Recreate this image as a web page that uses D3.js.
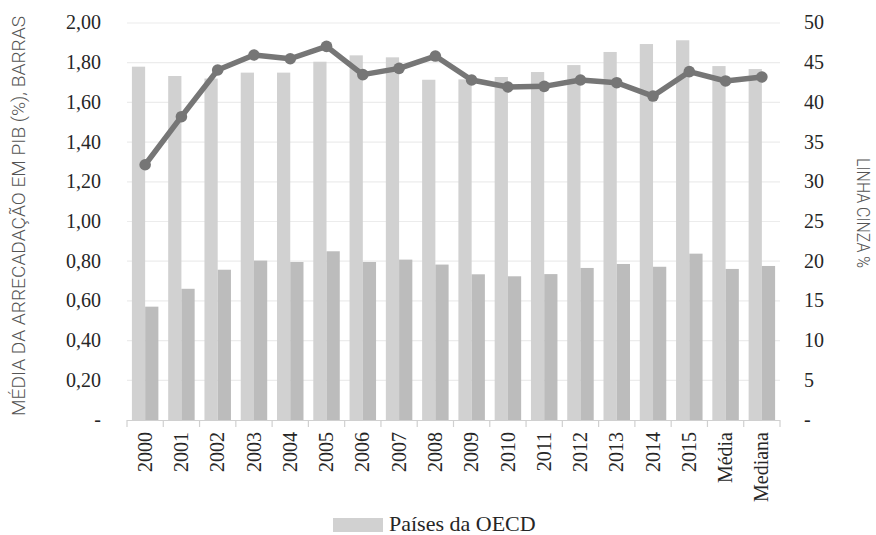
<!DOCTYPE html>
<html><head><meta charset="utf-8">
<script src="https://cdn.jsdelivr.net/npm/d3@7"></script>
<style>body{margin:0;background:#fff}svg{display:block}</style>
</head><body>
<svg id="c" width="876" height="535"></svg>
<script>
const categories = ["2000","2001","2002","2003","2004","2005","2006","2007","2008","2009","2010","2011","2012","2013","2014","2015","Média","Mediana"];
const barsLight = [1.78,1.733,1.72,1.75,1.75,1.805,1.837,1.827,1.714,1.716,1.728,1.753,1.788,1.854,1.894,1.913,1.783,1.768];
const barsDark = [0.571,0.661,0.757,0.803,0.796,0.85,0.796,0.808,0.783,0.734,0.724,0.735,0.766,0.786,0.772,0.838,0.761,0.776];
const lineGrey = [32.15,38.2,44.08,45.97,45.5,47.06,43.5,44.29,45.84,42.82,41.94,42.02,42.82,42.48,40.8,43.87,42.7,43.2];
const leftTicks = [0,0.2,0.4,0.6,0.8,1.0,1.2,1.4,1.6,1.8,2.0];
const rightTicks = [0,5,10,15,20,25,30,35,40,45,50];
const leftTitle = "MÉDIA DA ARRECADAÇÃO EM PIB (%), BARRAS";
const rightTitle = "LINHA CINZA %";
const legendLabel = "Países da OECD";

const svg = d3.select("#c");
const L = 127, R = 780, T = 23, B = 420;
const x = d3.scaleBand().domain(categories).range([L, R]).padding(0);
const yL = d3.scaleLinear().domain([0, 2]).range([B, T]);
const yR = d3.scaleLinear().domain([0, 50]).range([B, T]);
const serif = "'Liberation Serif', 'DejaVu Serif', serif";
const condensed = "'Roboto', 'DejaVu Sans Condensed', sans-serif";

// gridlines
svg.append("g").selectAll("line").data(leftTicks.filter(d => d > 0)).join("line")
  .attr("x1", L).attr("x2", R).attr("y1", d => yL(d)).attr("y2", d => yL(d))
  .attr("stroke", "#ececec").attr("stroke-width", 1.2);

// bars
const bw = x.bandwidth() * 0.365;
const gBars = svg.append("g");
gBars.selectAll("rect.l").data(categories).join("rect").attr("class", "l")
  .attr("x", (d) => x(d) + x.bandwidth() / 2 - bw).attr("width", bw)
  .attr("y", (d, i) => yL(barsLight[i])).attr("height", (d, i) => B - yL(barsLight[i]))
  .attr("fill", "#d1d1d1");
gBars.selectAll("rect.d").data(categories).join("rect").attr("class", "d")
  .attr("x", (d) => x(d) + x.bandwidth() / 2).attr("width", bw)
  .attr("y", (d, i) => yL(barsDark[i])).attr("height", (d, i) => B - yL(barsDark[i]))
  .attr("fill", "#bcbcbc");

// baseline & ticks
svg.append("line").attr("x1", L).attr("x2", R).attr("y1", B + 0.5).attr("y2", B + 0.5)
  .attr("stroke", "#d0d0d0").attr("stroke-width", 1.2);
svg.append("g").selectAll("line").data(categories.concat(["_end"])).join("line")
  .attr("x1", d => d === "_end" ? R : x(d)).attr("x2", d => d === "_end" ? R : x(d))
  .attr("y1", B).attr("y2", B + 7).attr("stroke", "#d0d0d0").attr("stroke-width", 1.2);

// line
const line = d3.line().x((d, i) => x(categories[i]) + x.bandwidth() / 2).y(d => yR(d));
svg.append("path").datum(lineGrey).attr("d", line).attr("fill", "none")
  .attr("stroke", "#767676").attr("stroke-width", 5.5).attr("stroke-linejoin", "round");
svg.append("g").selectAll("circle").data(lineGrey).join("circle")
  .attr("cx", (d, i) => x(categories[i]) + x.bandwidth() / 2).attr("cy", d => yR(d))
  .attr("r", 5.8).attr("fill", "#767676");

// left tick labels
const fmtL = d => d === 0 ? "-" : d3.format(".2f")(d).replace(".", ",");
svg.append("g").selectAll("text").data(leftTicks).join("text")
  .attr("x", 101).attr("y", d => yL(d)).attr("dy", "0.32em")
  .attr("text-anchor", "end").attr("font-family", serif).attr("font-size", 20)
  .attr("fill", "#262626").text(fmtL);
// right tick labels
svg.append("g").selectAll("text").data(rightTicks).join("text")
  .attr("x", 804).attr("y", d => yR(d)).attr("dy", "0.32em")
  .attr("text-anchor", "start").attr("font-family", serif).attr("font-size", 20)
  .attr("fill", "#262626").text(d => d === 0 ? "-" : d);

// x labels
svg.append("g").selectAll("text").data(categories).join("text")
  .attr("transform", d => `translate(${x(d) + x.bandwidth() / 2},432) rotate(-90)`)
  .attr("dy", "0.33em").attr("text-anchor", "end")
  .attr("font-family", serif).attr("font-size", 20).attr("fill", "#262626").text(d => d);

// axis titles
svg.append("text").attr("transform", "translate(25,216) rotate(-90)")
  .attr("text-anchor", "middle").attr("font-family", condensed)
  .attr("font-weight", 300).attr("font-size", 18).attr("fill", "#555555")
  .attr("textLength", 400).attr("lengthAdjust", "spacingAndGlyphs").text(leftTitle);
svg.append("text").attr("transform", "translate(857,213) rotate(90)")
  .attr("text-anchor", "middle").attr("font-family", condensed)
  .attr("font-weight", 300).attr("font-size", 18).attr("fill", "#555555")
  .attr("textLength", 110).attr("lengthAdjust", "spacingAndGlyphs").text(rightTitle);

// legend
svg.append("rect").attr("x", 333).attr("y", 518).attr("width", 50).attr("height", 14).attr("fill", "#d1d1d1");
svg.append("text").attr("x", 389).attr("y", 531).attr("font-family", serif).attr("font-size", 22)
  .attr("fill", "#262626").text(legendLabel);
</script>
</body></html>
